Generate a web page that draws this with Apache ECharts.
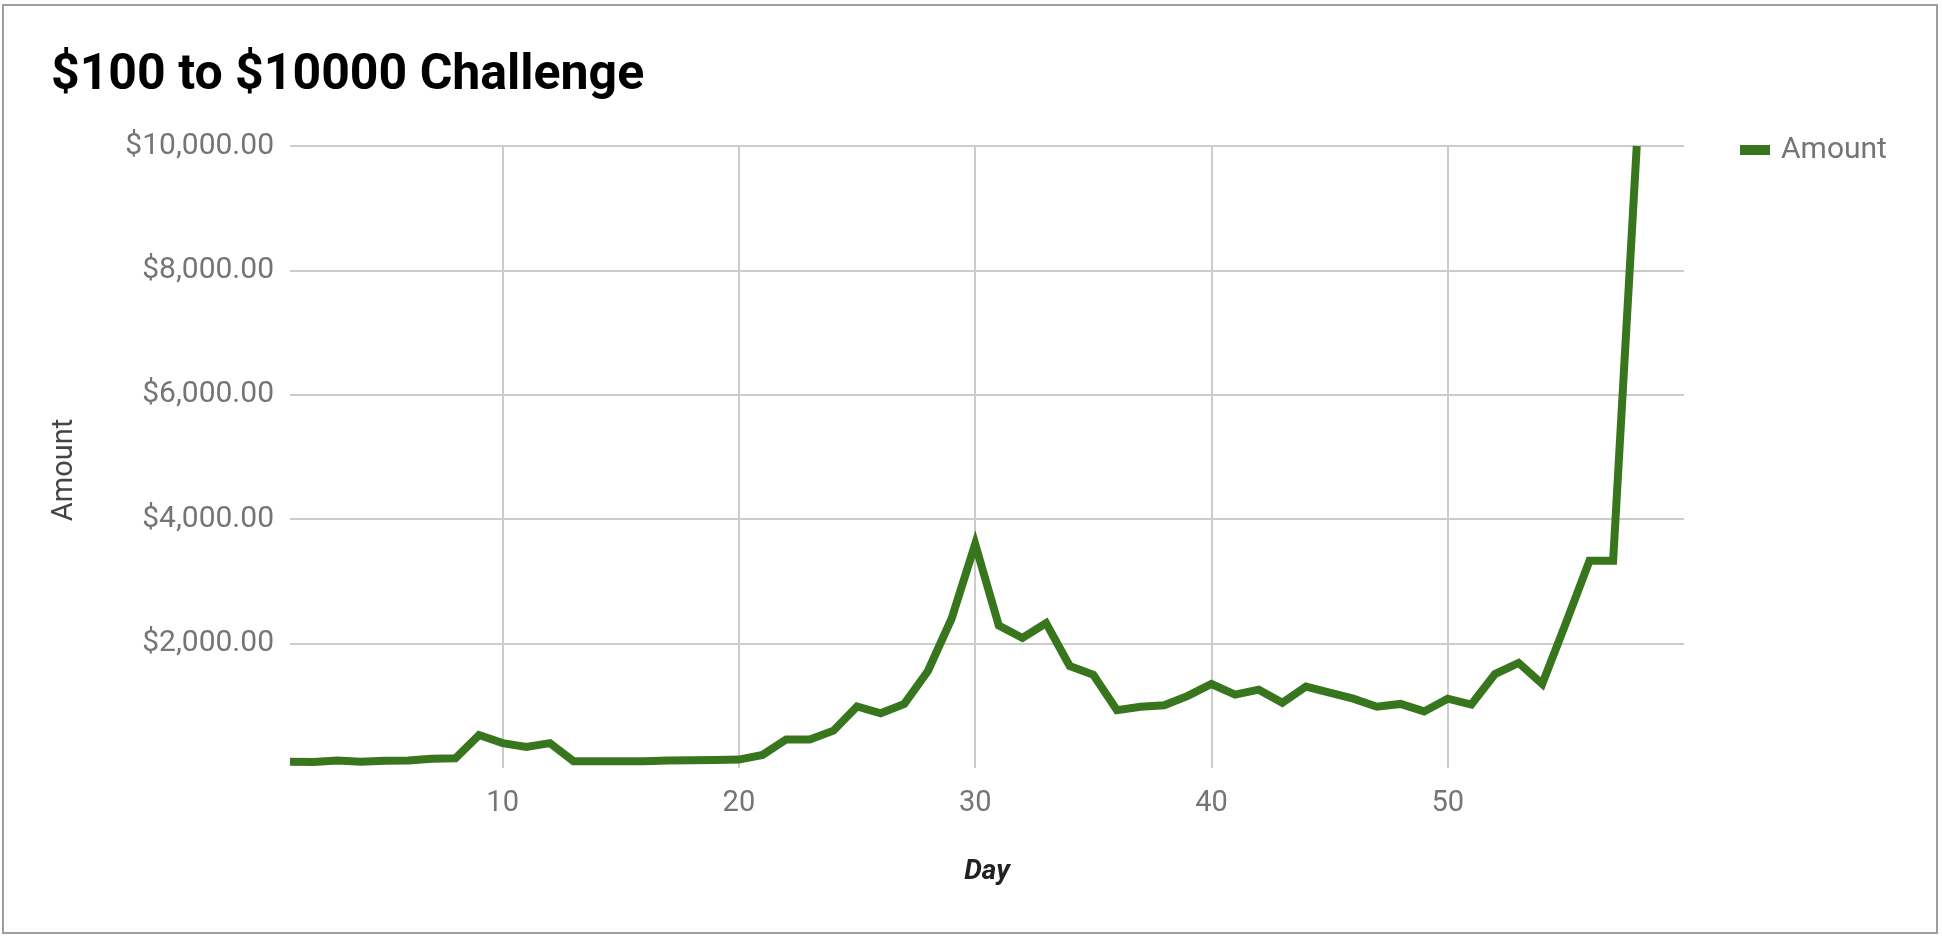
<!DOCTYPE html>
<html>
<head>
<meta charset="utf-8">
<script src="https://cdn.jsdelivr.net/npm/echarts@6.0.0/dist/echarts.min.js"></script>
<style>
  html, body { margin: 0; padding: 0; background: #ffffff; }
  #chart { width: 1942px; height: 936px; }
  #frame { position: absolute; left: 2px; top: 4px; width: 1932px; height: 926px; border: 2px solid #9e9e9e; pointer-events: none; }
</style>
</head>
<body>
<div id="chart"></div>
<div id="frame"></div>
<script>
const title = '$100 to $10000 Challenge';
const seriesName = 'Amount';
const days = [1, 2, 3, 4, 5, 6, 7, 8, 9, 10, 11, 12, 13, 14, 15, 16, 17, 18, 19, 20,
  21, 22, 23, 24, 25, 26, 27, 28, 29, 30, 31, 32, 33, 34, 35, 36, 37, 38, 39, 40,
  41, 42, 43, 44, 45, 46, 47, 48, 49, 50, 51, 52, 53, 54, 55, 56, 57, 58];
const amounts = [100, 95, 120, 100, 115, 120, 150, 155, 530, 400, 340, 400, 110, 110, 110, 110, 120, 125, 130, 135,
  210, 460, 460, 600, 990, 880, 1030, 1560, 2400, 3600, 2290, 2090, 2330, 1640, 1500, 930, 985, 1010, 1160, 1350,
  1180, 1260, 1050, 1310, 1210, 1115, 985, 1030, 910, 1115, 1020, 1510, 1690, 1350, 2330, 3330, 3330, 10000];
const xTicks = [10, 20, 30, 40, 50];
const yTicks = [2000, 4000, 6000, 8000, 10000];

const chart = echarts.init(document.getElementById('chart'), null, { renderer: 'canvas' });
const fmtMoney = v => '$' + v.toLocaleString('en-US', { minimumFractionDigits: 2, maximumFractionDigits: 2 });

chart.setOption({
  animation: false,
  backgroundColor: '#ffffff',
  textStyle: { fontFamily: 'Roboto' },
  title: {
    text: title,
    left: 46, top: 46,
    textStyle: { fontFamily: 'Roboto', fontWeight: 'bold', fontSize: 50, color: '#000000' }
  },
  legend: {
    data: [seriesName],
    left: 1735, top: 130,
    icon: 'rect', itemWidth: 30, itemHeight: 10, itemGap: 20,
    textStyle: { fontFamily: 'Roboto', fontSize: 30, color: '#757575', padding: [0, 0, 0, 6] }
  },
  grid: { left: 290, right: 258, top: 146, bottom: 168, containLabel: false },
  xAxis: {
    type: 'value', min: 1, max: 60,
    name: 'Day', nameLocation: 'middle', nameGap: 90,
    nameTextStyle: { fontFamily: 'Roboto', fontWeight: 'bold', fontStyle: 'italic', fontSize: 28, color: '#222222' },
    axisLine: { show: false },
    axisTick: { show: false, customValues: xTicks },
    axisLabel: { customValues: xTicks, fontFamily: 'Roboto', fontSize: 29, color: '#757575', margin: 21 },
    splitLine: { show: true, lineStyle: { color: '#cccccc', width: 2 } }
  },
  yAxis: {
    type: 'value', min: 0, max: 10000, interval: 2000,
    name: 'Amount', nameLocation: 'middle', nameGap: 211,
    nameTextStyle: { fontFamily: 'Roboto', fontSize: 29, color: '#444444', padding: [0, 26, 0, 0] },
    axisLine: { show: false },
    axisTick: { show: false },
    axisLabel: {
      fontFamily: 'Roboto', fontSize: 30, color: '#757575', margin: 16,
      formatter: v => (yTicks.indexOf(v) >= 0 ? fmtMoney(v) : '')
    },
    splitLine: { show: true, showMinLine: false, lineStyle: { color: '#cccccc', width: 2 } }
  },
  series: [{
    name: seriesName,
    type: 'line',
    data: days.map((d, i) => [d, amounts[i]]),
    showSymbol: false,
    symbol: 'none',
    color: '#38761d',
    lineStyle: { color: '#38761d', width: 8, join: 'miter' },
    z: 3
  }]
});
</script>
</body>
</html>
